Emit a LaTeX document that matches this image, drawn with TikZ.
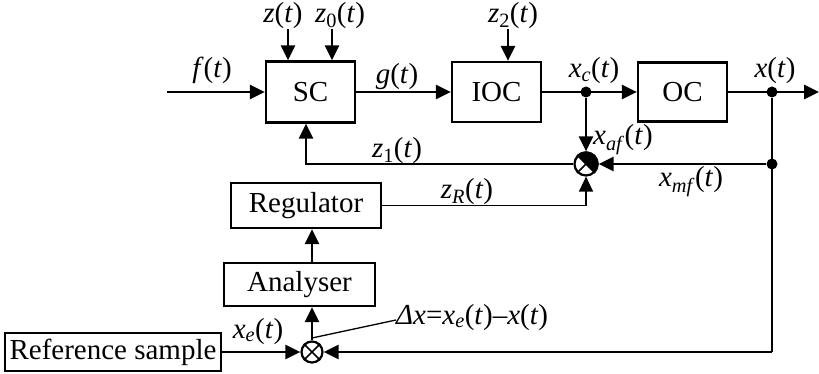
\documentclass[tikz,border=0pt]{standalone}
\usepackage{fontspec}
\setmainfont{Liberation Serif}
\usetikzlibrary{arrows.meta}
\newcommand\vi[1]{\textit{#1}}
\newcommand\sbs[1]{\textsubscript{#1}}
\begin{document}
\begin{tikzpicture}[x=1pt,y=-1pt,
  every node/.style={font=\fontsize{29}{32}\selectfont},
  blk/.style={draw, line width=2.2pt, inner sep=0pt},
  arr/.style={line width=2.6pt, -{Triangle[length=15pt,width=14pt]}},
  ln/.style={line width=2.6pt},
  dot/.style={circle, fill, inner sep=0pt, minimum size=11pt},
  sumc/.style={circle, draw, fill=white, line width=2.2pt, inner sep=0pt, minimum size=23pt},
  lab/.style={anchor=base, inner sep=0pt}]
\useasboundingbox (0,0) rectangle (819,374);
% blocks
\node[blk, minimum width=89pt, minimum height=61pt] (SC) at (310.5,92) {SC};
\node[blk, minimum width=89pt, minimum height=60pt] (IOC) at (496.5,92) {IOC};
\node[blk, minimum width=89pt, minimum height=59pt] (OC) at (682.5,92) {OC};
\node[blk, minimum width=150pt, minimum height=45pt] (Reg) at (306,205.5) {Regulator};
\node[blk, minimum width=151pt, minimum height=43pt] (Ana) at (299.5,284.5) {Analyser};
\node[blk, minimum width=216pt, minimum height=38pt] (Ref) at (113,352) {Reference sample};
% junctions
\node[dot] (xc) at (586,92) {};
\node[dot] (xo) at (772,92) {};
\node[dot] (xm) at (772,164) {};
\node[sumc] (s1) at (586,164) {};
\node[sumc, minimum size=21pt] (s2) at (312,352) {};
\fill (s1.center) \foreach \a in {-45,-35,...,135}{ -- (s1.\a)} -- cycle;
\draw[line width=1.6pt] (s1.45) -- (s1.225) (s1.135) -- (s1.-45);
\draw[line width=1.6pt] (s2.45) -- (s2.225) (s2.135) -- (s2.-45);
% free ends
\coordinate (fin) at (167,92);
\coordinate (out) at (819,92);
\coordinate (zt) at (288,29);
\coordinate (z0t) at (332,29);
\coordinate (z2t) at (508,29);
\coordinate (z1c) at (306,164);
\coordinate (xb) at (772,352);
\coordinate (ld) at (312,338);
% connectors
\draw[arr] (fin) -- (SC.west);
\draw[arr] (zt) -- (zt |- SC.north);
\draw[arr] (z0t) -- (z0t |- SC.north);
\draw[arr] (z2t) -- (z2t |- IOC.north);
\draw[arr] (SC.east) -- (IOC.west);
\draw[arr] (IOC.east) -- (OC.west);
\draw[arr] (OC.east) -- (out);
\draw[arr] (xc) -- (s1.north);
\draw[arr] (xm) -- (s1.east);
\draw[arr] (s1.west) -- (z1c) -- (z1c |- SC.south);
\draw[arr, line width=1.6pt] (Reg.east) -| (s1.south);
\draw[ln] (xo) -- (xb);
\draw[arr] (xb) -- (s2.east);
\draw[arr] (Ref.east) -- (s2.west);
\draw[arr] (s2.north) -- (s2.north |- Ana.south);
\draw[arr] (s2 |- Ana.north) -- (s2 |- Reg.south);
% labels
\node[lab] (lf) at (212,78) {\vi{f}(\vi{t})};
\node[lab] (lz) at (283,23) {\vi{z}(\vi{t})};
\node[lab] (lz0) at (340,23) {\vi{z}\sbs{0}(\vi{t})};
\node[lab] (lz2) at (513,23) {\vi{z}\sbs{2}(\vi{t})};
\node[lab] (lg) at (397,84) {\vi{g}(\vi{t})};
\node[lab] (lxc) at (594,78) {\vi{x}\sbs{\vi{c}}(\vi{t})};
\node[lab] (lx) at (775,78) {\vi{x}(\vi{t})};
\node[lab] (lz1) at (397,158) {\vi{z}\sbs{1}(\vi{t})};
\node[lab, anchor=base west] (lxaf) at (593,145) {\vi{x}\sbs{\vi{af}}(\vi{t})};
\node[lab] (lxmf) at (691,187) {\vi{x}\sbs{\vi{mf}}(\vi{t})};
\node[lab] (lzr) at (467,199) {\vi{z}\sbs{\vi{R}}(\vi{t})};
\node[lab] (lxe) at (258,338) {\vi{x}\sbs{\vi{e}}(\vi{t})};
\node[lab, anchor=base west] (dx) at (396,324) {\vi{Δx}=\vi{x}\sbs{\vi{e}}(\vi{t})–\vi{x}(\vi{t})};
\draw[line width=1.3pt] (ld) -- ([yshift=4pt]dx.base west);
\end{tikzpicture}
\end{document}
